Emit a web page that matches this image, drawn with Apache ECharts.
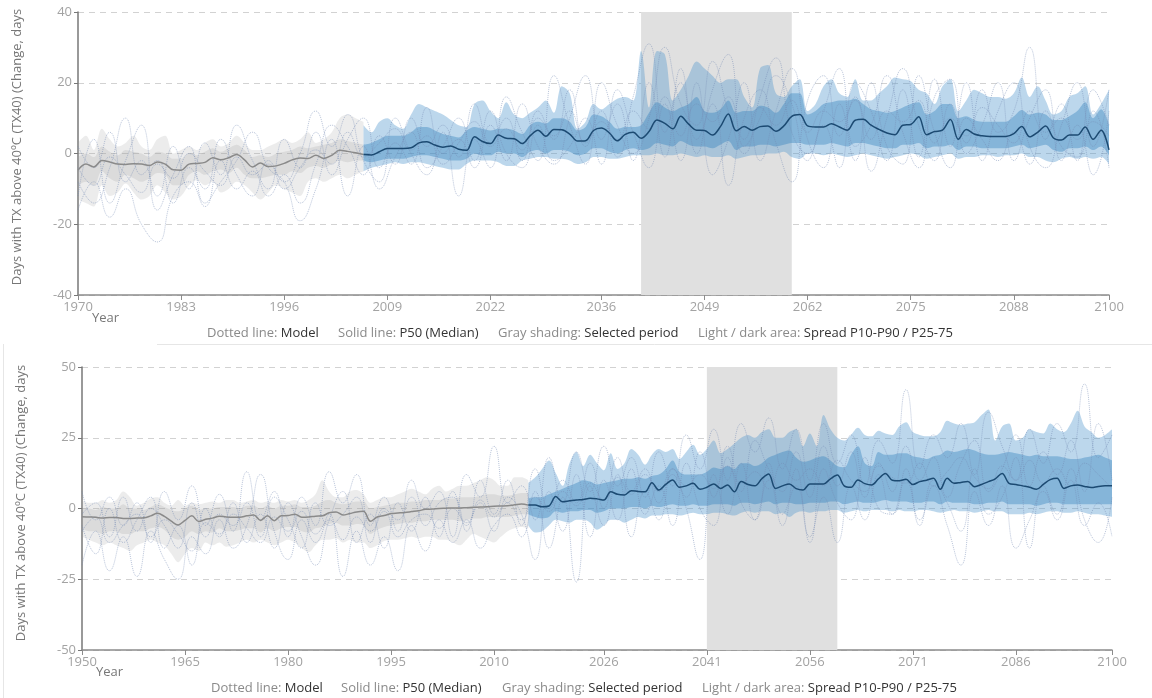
<!DOCTYPE html>
<html>
<head>
<meta charset="utf-8">
<script src="https://cdn.jsdelivr.net/npm/echarts@6/dist/echarts.min.js"></script>
<style>
  html, body { margin: 0; padding: 0; background: #fff; }
  #chart { width: 1152px; height: 698px; }
</style>
</head>
<body>
<div id="chart"></div>
<script>
// ---------- Upper panel: 1970–2100 ----------
const topFirstYear = 1970, topLastYear = 2100;
const topYearTicks = [1970, 1983, 1996, 2009, 2022, 2036, 2049, 2062, 2075, 2088, 2100];
const topHistStart = 1970;   // yearly, 1970–2006
const topProjStart = 2006;   // yearly, 2006–2100
const topModelStart = 1970;  // every second year, 1970–2100

const topHistP50 = [
  -4.7,-3.0,-3.8,-2.0,-2.4,-3.0,-3.1,-2.9,-3.0,-3.4,
  -2.4,-3.0,-4.6,-4.7,-3.0,-2.8,-2.5,-1.2,-1.8,-1.2,
  -0.3,-1.8,-3.8,-2.7,-3.7,-3.5,-2.8,-1.8,-1.3,-1.4,
  -0.5,-1.4,-0.5,0.9,0.6,0.2,-0.3];
const topHistP75 = [
  -1,0,-1,2,0.5,-0.5,1,0.5,0,-1,
  0.5,0,-1.5,-1.5,0,-0.5,0.5,1.5,0.5,1.5,
  2.5,1,-1,-0.5,-1,0,0.5,1,2,1.5,
  2,2.5,3,4,3.5,3,2.5];
const topHistP25 = [
  -9,-8,-9,-5,-7,-8,-6,-7,-8,-7,
  -5.5,-6,-9,-9,-6,-5,-6,-5,-4.5,-5.5,
  -4,-6,-7,-7,-6.5,-6,-6,-5,-5.5,-4,
  -3.5,-4,-3,-2,-2.5,-2,-2];
const topHistP90 = [
  3,5,1,7,4,2,3,5,2,1,
  4,5,0,1,2,1,3,4,2,3,
  5,3,1,1,2,3,4,3,4,6,
  3,4,6,10,11,10,9];
const topHistP10 = [
  -13,-14,-15,-9,-12,-11,-8.5,-11,-13,-12,
  -9,-11,-13,-12,-9,-7.5,-9,-8,-11,-10,
  -8,-9,-11,-13,-11,-9,-10,-11,-12,-8,
  -7,-8,-7,-6,-7,-6,-5];

const topProjP50 = [
  -0.3,-0.4,0.5,1.4,
  1.4,1.4,1.6,3.0,3.3,2.4,1.8,2.1,1.2,0.9,
  4.7,3.4,2.8,5.2,4.3,4.2,2.8,5.0,6.6,4.9,
  6.8,6.7,5.5,3.5,3.6,6.5,7.2,5.8,3.6,5.4,
  6.0,4.3,6.2,9.5,8.5,7.0,10.5,8.3,6.6,6.5,
  5.2,7.6,11.2,6.4,7.6,6.6,7.6,7.8,6.3,7.8,
  10.5,11.0,7.8,7.5,7.5,8.4,7.5,6.6,9.4,9.7,
  8.0,6.8,5.8,5.3,8.0,8.2,10.4,5.3,6.2,6.6,
  9.6,4.0,6.8,5.5,5.0,4.8,4.8,4.8,5.6,7.6,
  4.7,6.0,7.8,4.4,3.8,5.2,5.2,7.5,4.0,6.6,
  1.0];
const topProjP75 = [
  2.5,3,4,5,
  5,5,6,7.5,7.5,6.5,5.5,5,4.5,6.5,
  7.5,7,6.5,7,7,6.5,5.5,8,9,8.5,
  10,10,9,6.5,7.5,11,10.5,9,7,7.5,
  7.5,8,11.5,14.5,13,12,13,14,16,12,
  11.5,12.5,15,11.5,12,12,13.5,13,11.5,14,
  17,17,11,12,14,14.5,15,15,15.5,14,
  12.5,12,11.5,12,13,14,14.5,11,12,14,
  14,10,10.5,9.5,9,9,9,9,10.5,12.3,
  11,11.5,11,9.5,9.5,10.5,12,14.5,10,12.5,
  8];
const topProjP25 = [
  -2,-2.5,-2,-1.5,
  -1.5,-1.5,-1,-0.5,-0.5,-1,-1.5,-2,-2,-1.5,
  0,-0.5,-0.5,0.5,0,0,-1,0.5,1,0,
  1,1,0.5,-0.5,0,1.5,1.5,0.5,0,1,
  1.5,1,1.5,3,2.5,2,3.5,2.5,2,2,
  1.5,2.5,3.5,1,2,2,2.5,2.5,2,2.5,
  3,3,2.5,2.5,2.5,3,2.5,2,3,3,
  2.5,2,1.5,1.5,2.5,2.5,3,1.5,2,2,
  2.5,1,2,2,1.5,1.5,1.5,1.5,2,2.5,
  1.5,2,2.5,1,0.5,1.5,1.5,2,1,2,
  -0.5];
const topProjP90 = [
  8,6,9,10,
  8,7,11,14,13,12,11,9.5,8,7.5,
  14,15,12,10,14.5,11,10,11.5,13,15,
  11.5,19,17,7,9,14,12.5,14,15.5,16,
  15,29,13,29,28,15,18,22,26,24,
  22,20,21,21,16,13,24,25,17,16,
  19,21,12,14,19,21,17,16,21,15,
  15,17,19,21.5,21,20.5,18,17,14,19,
  21,12,15,18,17,16,16,15.5,17,21.5,
  16,19,15,11,12,16,17,19,11,14,
  18];
const topProjP10 = [
  -5,-4,-3.5,-3,
  -2.5,-3,-2.5,-2.5,-3,-3.5,-4,-4.5,-4.5,-3,
  -2,-2,-2,-2.5,-3.5,-3.5,-2,-1.5,-1,-1,
  -1.5,-1.5,-2,-3,-2.5,-1,-1,-1.5,-1.5,-1,
  -0.5,-0.5,-0.5,0,-0.5,-0.5,0,-0.5,-1,-0.5,
  -1,-1,-0.5,-1.5,-1,-0.5,-0.5,0,0,0.5,
  -1,-1.5,0,0,-0.5,0,-0.5,-1,-0.5,0,
  -0.5,-1,-1.5,-1,-0.5,0,-0.5,-1.5,-1,-0.5,
  0,-1.5,-1,-1,-0.5,-0.5,-1,-0.5,-0.5,0,
  -1,-1,-2,-2.5,-1.5,-1,-1.5,-1,-1.5,-1,
  -3];

const topModelA = [
  -16,-8,-18,-10,-20,  -25,-12,-8,-15,-2,  -10,-5,-12,-6,-14,
  -3,8,2,-6,5,  -3,10,2,8,-1,  14,3,10,-2,12,  4,18,2,12,-1,
  16,31,6,20,4,  14,-9,10,18,3,  -8,15,22,5,16,  -5,10,24,8,-2,
  14,3,18,6,12,  30,4,14,-2,18,  8];
const topModelB = [
  -8,-14,-4,10,-6,  -2,-14,-4,-10,4,  -6,-12,-2,-8,0,
  12,2,11,-2,-8,  10,0,-6,6,-12,  4,-4,16,6,-2,  22,8,-3,20,8,
  0,10,30,14,8,  26,12,0,16,27,  6,0,12,24,2,  8,22,6,-4,16,
  21,0,8,20,-2,  10,18,-2,8,-6,  12];
const topModelC = [
  2,-4,6,-8,-2,  -12,2,-10,3,-6,  8,-2,-10,4,-4,
  6,-6,4,10,-4,  3,-3,13,0,4,  -4,8,-2,14,2,  -3,10,22,4,14,
  -2,20,-1,24,0,  18,28,2,10,22,  14,-2,8,-4,20,  12,-2,18,-1,21,
  2,20,-2,12,20,  2,-4,8,20,2,  18];
const topModelD = [
  -12,4,-14,-2,8,  -16,-6,2,-14,-8,  -2,6,-4,-8,-19,
  -10,4,-12,2,-10,  -1,6,-4,2,10,  -2,12,0,-4,8,  -2,2,10,-3,18,
  6,-4,14,-2,20,  -6,4,20,-2,12,  24,4,-4,14,-2,  20,2,-3,22,6,
  -4,10,4,-2,6,  -3,12,2,-1,12,  -4];
const topModelE = [
  -4,-9,-1,-6,-11,  -3,-7,0,-5,-9,  -1,-6,-3,-10,-4,
  1,-3,6,-1,3,  7,1,5,-3,3,  9,2,7,1,10,  5,12,3,9,4,
  12,7,16,5,14,  9,16,4,13,8,  15,6,12,9,15,  4,12,9,15,3,
  10,5,13,8,3,  12,6,10,4,9,  5];

// ---------- Lower panel: 1950–2100 ----------
const botFirstYear = 1950, botLastYear = 2100;
const botYearTicks = [1950, 1965, 1980, 1995, 2010, 2026, 2041, 2056, 2071, 2086, 2100];
const botHistStart = 1950;   // yearly, 1950–2015
const botProjStart = 2015;   // yearly, 2015–2100
const botModelStart = 1950;  // every second year, 1950–2100

const botHistP50 = [
  -2.9,-3.0,-3.1,-3.4,-3.2,-3.2,-3.5,-3.5,-3.4,-3.3,
  -2.6,-1.7,-2.8,-4.5,-5.8,-4.2,-2.6,-4.6,-3.8,-3.4,
  -2.7,-3.0,-3.1,-3.1,-2.6,-2.3,-4.2,-2.6,-4.3,-2.6,
  -2.5,-2.0,-3.1,-3.0,-2.7,-2.6,-1.5,-1.2,-2.3,-1.8,
  -1.2,-1.0,-4.5,-3.0,-2.5,-1.8,-1.6,-1.4,-1.1,-0.8,
  -0.3,-0.2,0.0,0.1,0.2,0.2,0.3,0.4,0.5,0.6,
  0.8,0.9,1.0,1.3,1.6,1.2];
const botHistP75 = [
  0,0,-0.5,0.5,0,0,1.5,0,0,-0.5,
  0.5,1.5,0.5,-0.5,-1,0,1,-0.5,0,0,
  0.5,0.5,0.5,0,1,1,0,1,0,1,
  1,1.5,0.5,0.5,1,2.5,3,2,1.5,2,
  2.5,2.5,0,0.5,1,1.5,2,2,2.5,2.5,
  3,3,3,3.5,3.5,4,4,4,4.5,5,
  5,4.5,4.5,5,5.5,5.5];
const botHistP25 = [
  -7,-8,-8,-9,-8,-8,-9,-9,-8,-8,
  -7,-6.5,-7.5,-10,-11,-10,-8,-9,-8,-8.5,
  -7,-8,-8,-7.5,-7,-7,-8.5,-7,-8,-7,
  -6.5,-6.5,-8,-8.5,-7,-6.5,-5.5,-5,-6,-6,
  -5.5,-6,-9,-7.5,-6.5,-6,-5.5,-5,-5,-4.5,
  -4.5,-4,-4,-4,-4,-4.5,-4,-3.5,-3.5,-3,
  -3,-3,-3,-2.5,-2,-2];
const botHistP90 = [
  3,2,2,3,2,3,6,4,1,2,
  3.5,4,2,1,3,1,2,1.5,2,2.5,
  2,3,3,2,2.5,3,2,2.5,2,3,
  2.5,3,2,3,5,10,6,4,4,6,
  6.5,5,2,3,4,4,5,6,7,6,
  5,7,8,6,7,8,8,9,10,11,
  10,8,8,11,11,10];
const botHistP10 = [
  -10,-11,-12,-13,-12,-13,-14,-15,-13,-12,
  -11,-12,-13,-16,-19,-16,-14,-15,-12,-13,
  -12,-13.5,-13,-12,-11,-12,-11,-12,-13,-12,
  -11,-12,-14,-15.5,-13,-11,-11,-10.5,-12,-11,
  -12,-12,-14,-13,-11.5,-11,-11,-10.5,-10,-10.5,
  -10,-10,-11,-11,-12,-13,-11,-9,-10,-11,
  -12,-10,-8,-7,-6.5,-7];

const botProjP50 = [
  1.2,1.2,0.6,0.9,4.2,
  2.4,2.7,3.0,3.2,3.6,3.4,3.0,5.9,5.0,4.8,
  6.3,6.0,5.9,9.1,6.5,8.5,10.1,7.5,8.0,8.9,
  6.8,7.5,8.7,7.1,8.3,5.9,9.5,8.5,8.0,10.5,
  12.2,7.1,8.0,8.7,7.0,6.5,8.7,8.7,8.7,10.5,
  11.8,8.0,7.5,10.1,8.8,8.3,10.5,12.4,10.0,9.8,
  10.3,8.5,9.5,10.0,10.7,6.8,10.7,8.9,9.2,9.5,
  7.7,8.5,9.5,10.5,12.4,8.9,8.5,8.0,7.5,6.8,
  8.5,10.2,10.7,7.1,8.0,8.3,7.8,7.4,7.8,8.0,
  8.0];
const botProjP75 = [
  3.6,4,4,5,6,
  7,8,9,10,9.5,8.5,9,9.5,10,10.5,
  10.5,11,10.5,11.5,12,14,17,13,12,12,
  12,13,14.5,14,15,14,16,16,15,16,
  18,19,20,20.5,18,16.5,17,18,18.5,17,
  15,14.5,19,22,16,15,20,19,19,19.5,
  19.5,18.5,18,17.5,18.5,19,20.5,20,20.5,21,
  20.5,19.5,19,19,19.5,20,19.5,19,18.5,19,
  18.5,18.5,18.5,18,17.5,17.5,18,18.5,19,18,
  17];
const botProjP25 = [
  -2,-3,-3.5,-3,-1,
  -1.5,-1,-1,-0.5,-0.5,-1.5,-1,0,0,0,
  0.5,0.5,0,1,0.5,1,1.5,1,1,1.5,
  1,1,1.5,1.5,1.5,1,2,2,1.5,2,
  2.5,1.5,2,2,1.5,1.5,2,2,2,2.5,
  2.5,1.5,2,2.5,2,2,2.5,3,2.5,2.5,
  2.5,2,2,2.5,2.5,1.5,2.5,2,2,2,
  1.5,1.5,2,2,2.5,1.5,1.5,1.5,1.5,1,
  1.5,2,2,1.5,1.5,1.5,1.5,1.5,1.5,1.5,
  1.5];
const botProjP90 = [
  9,11,14,17,12.5,
  8,16,20,15,19,16,13.5,19.5,14,16,
  21,19,15.5,19,21,20,21,17.5,20,22.5,
  19,21,24,19.5,21,23,25,26,25,27,
  28,25,25,27,28,22,26.5,22,33,28,
  25,24,26,28.5,26,25.5,27.5,26.5,26,29,
  30.5,27,26,25.5,25.5,27,31,30,29.5,30,
  30.5,33,35,24,29,30,24,25,28,27,
  26.5,30,28,27,30,34.5,29,27,25,26,
  28];
const botProjP10 = [
  -6,-8.5,-8,-6,-4,
  -4.5,-5,-4,-4,-5,-7.5,-6,-4,-4,-5,
  -4,-3,-3.5,-2.5,-2.5,-2,-2,-2.5,-2,-1.5,
  -2,-2,-1.5,-1.5,-2,-2.5,-1.5,-1,-1.5,-1,
  -1,-2,-1.5,-3,-1.5,-1,-1.5,-1,-1,-0.5,
  -0.5,-1.5,-1,-0.5,-1,-0.5,-0.5,-0.5,-1,-0.5,
  -1,-1,-0.5,-0.5,-1,-1.5,-1,-0.5,-1,-1,
  -1.5,-1,-0.5,-1,-1,-2,-2,-2,-1.5,-2,
  -1.5,-1,-1,-1.5,-1.5,-1,-1.5,-2,-2,-2.5,
  -3];

const botModelA = [
  -20,-8,-22,-10,-24,  -8,-18,-25,-10,-16,  -4,-14,-6,12,-8,
  -18,-4,-12,-2,-24,  -8,-20,-10,-22,-6,  -15,-4,-12,-4,-14,
  -6,-2,-10,6,-14,  4,-26,8,-6,12,  -10,6,-4,14,0,
  -18,12,-2,16,-4,  10,-6,14,-10,4,  -12,8,-4,12,-2,
  10,-4,8,-6,-20,  6,-6,8,-14,-4,  6,-4,10,-6,2,  -10];
const botModelB = [
  6,-4,4,-6,2,  -12,6,-4,8,-6,  5,-8,13,-4,6,
  -10,4,-6,13,2,  12,-6,4,-8,10,  0,6,-10,12,4,
  22,2,8,-4,18,  2,20,6,22,8,  18,4,20,8,26,
  14,28,10,30,20,  32,14,28,10,30,  16,26,8,24,16,
  42,14,26,18,30,  12,34,22,10,28,  16,30,20,44,18,  26];
const botModelC = [
  -6,-16,0,-12,-4,  4,-14,-6,-20,0,  -10,2,-12,-2,-14,
  2,-10,-20,-4,6,  -12,-2,-14,2,-8,  4,-10,6,-6,2,
  -8,4,-2,-18,6,  -8,12,-10,10,-4,  14,-2,8,-6,16,
  0,-6,18,2,-4,  16,-2,8,-12,14,  2,-4,18,0,-2,
  14,-6,10,2,-8,  14,-2,4,18,-14,  8,-2,14,-4,-12,  4];
const botModelD = [
  -2,2,-10,4,-8,  0,-6,-14,2,-10,  -2,-6,2,-10,4,
  -4,-14,2,-6,-2,  4,-12,0,-4,4,  -6,2,4,-8,10,
  -2,10,-6,14,0,  10,2,16,0,18,  6,14,2,12,4,
  20,4,22,6,24,  14,6,20,4,22,  8,20,4,16,6,
  22,10,18,4,16,  24,6,14,26,8,  20,12,24,6,30,  10];
const botModelE = [
  -8,-3,-12,-6,-2,  -10,-4,-9,-15,-5,  -9,-2,-7,-12,-3,
  -8,-1,-9,-4,-11,  -3,-8,-1,-10,-4,  -2,-7,0,-5,3,
  -3,2,-4,4,-1,  6,1,9,3,11,  5,12,6,14,8,
  12,7,15,9,13,  7,16,10,14,8,  17,10,6,15,11,
  9,16,8,13,18,  11,7,15,10,17,  9,14,8,16,12,  7];

const selectedPeriod = [2041, 2060];

// ---------- styling ----------
const FONT = '"Open Sans", "DejaVu Sans", sans-serif';
const C = {
  histLight: 'rgba(160,160,160,0.2)',
  histDark: 'rgba(160,160,160,0.22)',
  histMedian: '#8a8a8a',
  projLight: 'rgba(80,150,205,0.38)',
  projDark: 'rgba(50,130,190,0.4)',
  projMedian: '#1c4a72',
  model: 'rgba(115,138,180,0.5)',
  selected: '#e0e0e0'
};

function yearRange(first, last) {
  const out = [];
  for (let y = first; y <= last; y++) out.push(y);
  return out;
}
// Place a run of values on the full yearly category list, empty elsewhere.
function onYears(years, start, step, values) {
  return years.map(y => {
    const k = (y - start) / step;
    return (Number.isInteger(k) && k >= 0 && k < values.length) ? values[k] : null;
  });
}
function gaps(lo, hi) {
  return hi.map((v, i) => Math.round((v - lo[i]) * 100) / 100);
}

// A filled spread between two percentile curves, drawn as a stacked pair.
function spreadBand(axis, years, key, start, lo, hi, color, z, extra) {
  const common = {
    type: 'line', xAxisIndex: axis, yAxisIndex: axis,
    stack: key, stackStrategy: 'all', smooth: 0.35,
    symbol: 'none', silent: true, z: z,
    lineStyle: { width: 0, opacity: 0 }
  };
  const base = Object.assign({}, common, { data: onYears(years, start, 1, lo) }, extra || {});
  const top = Object.assign({}, common, {
    data: onYears(years, start, 1, gaps(lo, hi)),
    areaStyle: { color: color, opacity: 1 }
  });
  return [base, top];
}

function medianLine(axis, years, start, values, color) {
  return {
    type: 'line', xAxisIndex: axis, yAxisIndex: axis,
    data: onYears(years, start, 1, values), smooth: 0.35, symbol: 'none', silent: true, z: 6,
    lineStyle: { color: color, width: 1.5 }
  };
}

function modelLine(axis, years, start, values) {
  return {
    type: 'line', xAxisIndex: axis, yAxisIndex: axis, connectNulls: true,
    data: onYears(years, start, 2, values), smooth: 0.5, symbol: 'none', silent: true, z: 5,
    lineStyle: { color: C.model, width: 1, type: 'dotted' }
  };
}

const periodMark = {
  markArea: {
    silent: true,
    itemStyle: { color: C.selected },
    data: [[{ xAxis: String(selectedPeriod[0]) }, { xAxis: String(selectedPeriod[1]) }]]
  }
};

function panelSeries(axis, years, d) {
  return [].concat(
    spreadBand(axis, years, 'hl' + axis, d.histStart, d.histP10, d.histP90, C.histLight, 2, periodMark),
    spreadBand(axis, years, 'hd' + axis, d.histStart, d.histP25, d.histP75, C.histDark, 3),
    spreadBand(axis, years, 'pl' + axis, d.projStart, d.projP10, d.projP90, C.projLight, 2),
    spreadBand(axis, years, 'pd' + axis, d.projStart, d.projP25, d.projP75, C.projDark, 3),
    d.models.map(m => modelLine(axis, years, d.modelStart, m)),
    [medianLine(axis, years, d.histStart, d.histP50, C.histMedian),
     medianLine(axis, years, d.projStart, d.projP50, C.projMedian)]
  );
}

const topYears = yearRange(topFirstYear, topLastYear);
const botYears = yearRange(botFirstYear, botLastYear);

const series = [].concat(
  panelSeries(0, topYears, {
    histStart: topHistStart, projStart: topProjStart, modelStart: topModelStart,
    histP10: topHistP10, histP25: topHistP25, histP50: topHistP50, histP75: topHistP75, histP90: topHistP90,
    projP10: topProjP10, projP25: topProjP25, projP50: topProjP50, projP75: topProjP75, projP90: topProjP90,
    models: [topModelA, topModelB, topModelC, topModelD, topModelE]
  }),
  panelSeries(1, botYears, {
    histStart: botHistStart, projStart: botProjStart, modelStart: botModelStart,
    histP10: botHistP10, histP25: botHistP25, histP50: botHistP50, histP75: botHistP75, histP90: botHistP90,
    projP10: botProjP10, projP25: botProjP25, projP50: botProjP50, projP75: botProjP75, projP90: botProjP90,
    models: [botModelA, botModelB, botModelC, botModelD, botModelE]
  })
);

function xAxisFor(grid, years, ticks) {
  const shown = (i, v) => ticks.indexOf(Number(v)) >= 0;
  return {
    type: 'category', gridIndex: grid, data: years.map(String), boundaryGap: false,
    axisLine: { show: true, onZero: false, lineStyle: { color: '#8c8c8c', width: 1.5 } },
    axisTick: { show: true, interval: shown, length: 5, lineStyle: { color: '#8c8c8c' } },
    axisLabel: { interval: shown, color: '#a3a3a3', fontSize: 13, fontFamily: FONT, margin: 6, hideOverlap: false },
    splitLine: { show: false }
  };
}
function yAxisFor(grid, lim, step) {
  return {
    type: 'value', gridIndex: grid, min: -lim, max: lim, interval: step,
    axisLine: { show: true, lineStyle: { color: '#777', width: 1.5 } },
    axisTick: { show: true, length: 4, lineStyle: { color: '#777' } },
    axisLabel: { color: '#a3a3a3', fontSize: 13, fontFamily: FONT, margin: 6 },
    splitLine: { show: true, lineStyle: { color: '#d2d2d2', width: 1, type: [6, 5] } }
  };
}

const yTitle = 'Days with TX above 40ºC (TX40) (Change, days';
const legendRows = [
  { y: 333, xs: [207, 338, 498, 698] },
  { y: 688, xs: [211, 341, 502, 702] }
];
const legendItems = [
  ['Dotted line: ', 'Model'],
  ['Solid line: ', 'P50 (Median)'],
  ['Gray shading: ', 'Selected period'],
  ['Light / dark area: ', 'Spread P10-P90 / P25-75']
];

const graphics = [
  { type: 'line', shape: { x1: 157, y1: 344.5, x2: 1152, y2: 344.5 }, style: { stroke: '#e6e6e6', lineWidth: 1 }, silent: true },
  { type: 'line', shape: { x1: 3.5, y1: 344, x2: 3.5, y2: 698 }, style: { stroke: '#e6e6e6', lineWidth: 1 }, silent: true },
  { type: 'text', x: 17, y: 147, rotation: Math.PI / 2, silent: true,
    style: { text: yTitle, fill: '#777', font: '13px ' + FONT, textAlign: 'center', textVerticalAlign: 'middle' } },
  { type: 'text', x: 21, y: 503, rotation: Math.PI / 2, silent: true,
    style: { text: yTitle, fill: '#777', font: '13px ' + FONT, textAlign: 'center', textVerticalAlign: 'middle' } },
  { type: 'text', x: 92, y: 318, silent: true,
    style: { text: 'Year', fill: '#777', font: '13px ' + FONT, textVerticalAlign: 'middle' } },
  { type: 'text', x: 96, y: 672, silent: true,
    style: { text: 'Year', fill: '#777', font: '13px ' + FONT, textVerticalAlign: 'middle' } }
];
legendRows.forEach(row => {
  legendItems.forEach((item, i) => {
    graphics.push({
      type: 'text', x: row.xs[i], y: row.y, silent: true,
      style: {
        text: '{k|' + item[0] + '}{v|' + item[1] + '}',
        textVerticalAlign: 'middle',
        rich: {
          k: { fill: '#8a8a8a', font: '13px ' + FONT },
          v: { fill: '#333', font: '13px ' + FONT }
        }
      }
    });
  });
});

const chart = echarts.init(document.getElementById('chart'), null, { renderer: 'canvas' });
chart.setOption({
  animation: false,
  backgroundColor: '#fff',
  grid: [
    { left: 78, top: 12, width: 1031, height: 283 },
    { left: 82, top: 367, width: 1030, height: 283 }
  ],
  xAxis: [xAxisFor(0, topYears, topYearTicks), xAxisFor(1, botYears, botYearTicks)],
  yAxis: [yAxisFor(0, 40, 20), yAxisFor(1, 50, 25)],
  series: series,
  graphic: graphics
});
</script>
</body>
</html>
